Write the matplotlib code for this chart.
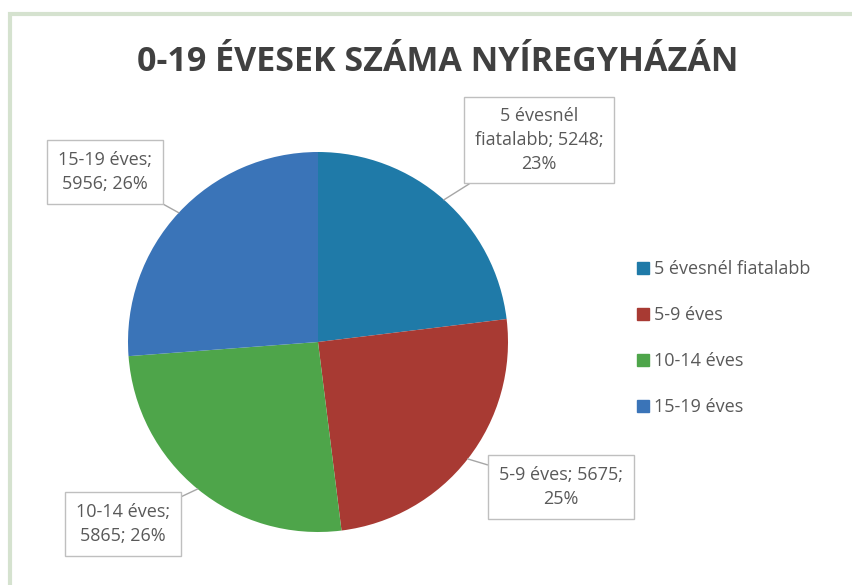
import matplotlib
matplotlib.use("Agg")
import matplotlib.pyplot as plt
import matplotlib.patches as mpatches
import numpy as np

plt.rcParams["font.family"] = ["Open Sans", "DejaVu Sans"]

# data
categories = ["5 évesnél fiatalabb", "5-9 éves", "10-14 éves", "15-19 éves"]
values = [5248, 5675, 5865, 5956]
percents = [23, 25, 26, 26]
label_texts = ["5 évesnél\nfiatalabb; 5248;\n23%",
               "5-9 éves; 5675;\n25%",
               "10-14 éves;\n5865; 26%",
               "15-19 éves;\n5956; 26%"]

COLORS = ["#1f7aa8", "#a83a33", "#4ea54a", "#3a74b8"]
TXT = "#595959"
W, H = 852, 585

fig = plt.figure(figsize=(W / 100, H / 100), dpi=100)
fig.patch.set_facecolor("white")

# chart-area frame (only top and left edges fall inside the image)
fig.patches.append(mpatches.Rectangle((10 / W, -10 / H), 860 / W, 581 / H,
                                      transform=fig.transFigure, fill=False,
                                      edgecolor="#d5e2cf", linewidth=3))

# pie axes: centre ~(318, 342), radius ~190 px
cx, cy, r = 318, 342, 190
ax = fig.add_axes([(cx - r) / W, (H - cy - r) / H, 2 * r / W, 2 * r / H])
wedges, _ = ax.pie(values, colors=COLORS, startangle=90, counterclock=False,
                   radius=1.0, wedgeprops=dict(linewidth=0))
ax.set_xlim(-1, 1); ax.set_ylim(-1, 1)
ax.set_aspect("equal")

# label box positions (figure pixels, centre)
box_pos = [(539, 140), (561, 487), (123, 524), (105, 172)]
for w, txt, (bx, by) in zip(wedges, label_texts, box_pos):
    ang = np.deg2rad((w.theta1 + w.theta2) / 2)
    px, py = np.cos(ang), np.sin(ang)
    ax.annotate(txt, xy=(px, py), xycoords="data",
                xytext=(bx / W, 1 - by / H), textcoords="figure fraction",
                ha="center", va="center", fontsize=13, color=TXT,
                linespacing=1.4,
                bbox=dict(boxstyle="square,pad=0.6", fc="white",
                          ec="#bfbfbf", lw=1),
                arrowprops=dict(arrowstyle="-", color="#a6a6a6", lw=1,
                                shrinkA=0, shrinkB=0))

# legend
handles = [mpatches.Patch(color=c, label=l) for c, l in zip(COLORS, categories)]
fig.legend(handles=handles, loc="center left", bbox_to_anchor=(621 / W, 1 - 338 / H),
           frameon=False, fontsize=13, labelcolor=TXT, handlelength=0.65,
           handleheight=0.65, handletextpad=0.25, labelspacing=1.55)

fig.text(438 / W, 1 - 62 / H, "0-19 ÉVESEK SZÁMA NYÍREGYHÁZÁN",
         ha="center", va="center", fontsize=24.5, fontweight="bold", color="#404040")

plt.savefig("out.png", dpi=100, facecolor="white")
